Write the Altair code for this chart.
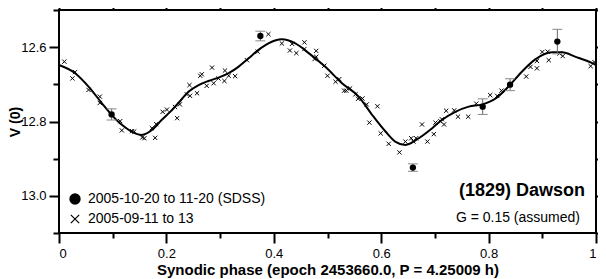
import altair as alt
import pandas as pd

# ---- data ----
curve_phase = [0.000, 0.030, 0.055, 0.080, 0.098, 0.117, 0.135, 0.154, 0.173, 0.191,
               0.207, 0.222, 0.241, 0.260, 0.278, 0.297, 0.316, 0.334, 0.353, 0.371,
               0.390, 0.415, 0.440, 0.465, 0.496, 0.527, 0.558, 0.583, 0.608, 0.626,
               0.645, 0.670, 0.695, 0.713, 0.738, 0.763, 0.788, 0.813, 0.837, 0.862,
               0.887, 0.918, 0.937, 0.962, 0.993, 1.000]
curve_mag = [12.648, 12.670, 12.706, 12.751, 12.782, 12.809, 12.827, 12.836, 12.823, 12.796,
             12.774, 12.751, 12.720, 12.702, 12.691, 12.682, 12.670, 12.653, 12.630, 12.608,
             12.590, 12.579, 12.590, 12.616, 12.653, 12.697, 12.733, 12.782, 12.827, 12.854,
             12.863, 12.845, 12.818, 12.796, 12.774, 12.760, 12.754, 12.738, 12.706, 12.666,
             12.633, 12.614, 12.614, 12.626, 12.643, 12.648]

cross_phase = [0.010, 0.030, 0.025, 0.055, 0.076, 0.076, 0.114, 0.117, 0.136, 0.140,
               0.155, 0.159, 0.179, 0.173, 0.181, 0.193, 0.201, 0.216, 0.225, 0.220,
               0.238, 0.244, 0.257, 0.243, 0.263, 0.266, 0.285, 0.275, 0.288, 0.297,
               0.308, 0.309, 0.316, 0.328, 0.350, 0.370, 0.390, 0.415, 0.434, 0.430,
               0.442, 0.457, 0.457, 0.479, 0.479, 0.476, 0.494, 0.500, 0.515, 0.522,
               0.531, 0.535, 0.542, 0.552, 0.557, 0.565, 0.573, 0.593, 0.578, 0.599,
               0.614, 0.634, 0.645, 0.656, 0.665, 0.660, 0.676, 0.686, 0.698, 0.701,
               0.710, 0.717, 0.713, 0.721, 0.736, 0.743, 0.762, 0.777, 0.803, 0.816,
               0.824, 0.870, 0.878, 0.890, 0.890, 0.900, 0.910, 0.912, 0.932, 0.938,
               0.990, 0.997]
cross_mag = [12.639, 12.667, 12.684, 12.715, 12.733, 12.750, 12.799, 12.824, 12.826, 12.827,
             12.843, 12.845, 12.844, 12.818, 12.807, 12.774, 12.768, 12.761, 12.754, 12.791,
             12.727, 12.731, 12.724, 12.702, 12.677, 12.673, 12.655, 12.704, 12.697, 12.684,
             12.691, 12.663, 12.677, 12.678, 12.635, 12.612, 12.565, 12.590, 12.591, 12.609,
             12.616, 12.587, 12.605, 12.610, 12.626, 12.632, 12.650, 12.677, 12.693, 12.686,
             12.717, 12.717, 12.711, 12.727, 12.739, 12.738, 12.754, 12.759, 12.803, 12.832,
             12.860, 12.883, 12.854, 12.845, 12.845, 12.854, 12.808, 12.854, 12.834, 12.803,
             12.799, 12.808, 12.794, 12.771, 12.770, 12.787, 12.787, 12.752, 12.729, 12.731,
             12.717, 12.679, 12.653, 12.657, 12.637, 12.613, 12.612, 12.635, 12.617, 12.624,
             12.651, 12.640]

sdss_phase = [0.098, 0.375, 0.659, 0.789, 0.840, 0.928]
sdss_mag = [12.781, 12.570, 12.924, 12.760, 12.701, 12.585]
sdss_err = [0.015, 0.013, 0.010, 0.021, 0.016, 0.033]

legend_labels = ["2005-10-20 to 11-20 (SDSS)", "2005-09-11 to 13"]
title_text = "(1829) Dawson"
note_text = "G = 0.15 (assumed)"
x_title = "Synodic phase (epoch 2453660.0, P = 4.25009 h)"
y_title = "V (0)"

x_ticks = [round(i * 0.1, 1) for i in range(11)]
y_ticks = [round(12.5 + i * 0.1, 1) for i in range(7)]

FONT = "Liberation Sans"
CROSS = "M-1,-1L1,1M-1,1L1,-1"

curve_df = pd.DataFrame({"phase": curve_phase, "mag": curve_mag})
cross_df = pd.DataFrame({"phase": cross_phase, "mag": cross_mag})
sdss_df = pd.DataFrame({"phase": sdss_phase, "mag": sdss_mag, "err": sdss_err})
sdss_df["lo"] = sdss_df["mag"] - sdss_df["err"]
sdss_df["hi"] = sdss_df["mag"] + sdss_df["err"]

xscale = alt.Scale(domain=[0, 1], nice=False, zero=False)
yscale = alt.Scale(domain=[12.5, 13.1], nice=False, zero=False, reverse=True)

major = "abs(datum.value*5 - round(datum.value*5)) < 0.001"

common_axis = dict(domain=False, grid=False, tickColor="black", tickWidth=2,
                   labelFont=FONT, labelFontSize=13, labelColor="black",
                   titleFont=FONT, titleFontSize=15, titleFontWeight="bold",
                   titleColor="black")

x_axis_main = alt.Axis(
    orient="bottom", values=x_ticks, title=x_title,
    tickSize={"condition": {"test": major, "value": 10}, "value": 5},
    labelExpr="abs(datum.value*5 - round(datum.value*5)) < 0.001 ? (datum.value == 0 ? '0' : (datum.value == 1 ? '1' : format(datum.value, '.1f'))) : ''",
    labelPadding=4, titlePadding=2, **common_axis)
y_common = dict(common_axis)
y_common["titleFontSize"] = 14
y_axis_main = alt.Axis(
    orient="left", values=y_ticks, title=y_title,
    tickSize={"condition": {"test": major, "value": 10}, "value": 6},
    labelExpr="abs(datum.value*5 - round(datum.value*5)) < 0.001 ? format(datum.value, '.1f') : ''",
    labelPadding=3, titleX=-40, titleAngle=270, titleBaseline="alphabetic",
    titleAlign="center", **y_common)
x_axis_top = alt.Axis(
    orient="top", values=x_ticks, title=None, labels=False,
    tickSize={"condition": {"test": major, "value": 10}, "value": 5},
    **common_axis)
y_axis_right = alt.Axis(
    orient="right", values=y_ticks, title=None, labels=False,
    tickSize={"condition": {"test": major, "value": 10}, "value": 6},
    **common_axis)

curve = alt.Chart(curve_df).mark_line(color="black", strokeWidth=2, interpolate="monotone").encode(
    x=alt.X("phase:Q", scale=xscale, axis=x_axis_top),
    y=alt.Y("mag:Q", scale=yscale, axis=y_axis_right),
)

crosses = alt.Chart(cross_df).mark_point(shape=CROSS, size=18, filled=False,
                                         color="black", strokeWidth=1, opacity=1).encode(
    x=alt.X("phase:Q", scale=xscale, axis=x_axis_main),
    y=alt.Y("mag:Q", scale=yscale, axis=y_axis_main),
)

err_rule = alt.Chart(sdss_df).mark_rule(color="#666666", strokeWidth=1).encode(
    x=alt.X("phase:Q", scale=xscale, axis=None),
    y=alt.Y("lo:Q", scale=yscale, axis=None),
    y2="hi:Q",
)
cap_lo = alt.Chart(sdss_df).mark_tick(orient="horizontal", size=10, thickness=1,
                                      color="#888888", opacity=1).encode(
    x=alt.X("phase:Q", scale=xscale, axis=None),
    y=alt.Y("lo:Q", scale=yscale, axis=None),
)
cap_hi = alt.Chart(sdss_df).mark_tick(orient="horizontal", size=10, thickness=1,
                                      color="#888888", opacity=1).encode(
    x=alt.X("phase:Q", scale=xscale, axis=None),
    y=alt.Y("hi:Q", scale=yscale, axis=None),
)
dots = alt.Chart(sdss_df).mark_circle(size=40, color="black", opacity=1).encode(
    x=alt.X("phase:Q", scale=xscale, axis=None),
    y=alt.Y("mag:Q", scale=yscale, axis=None),
)

leg1_df = pd.DataFrame({"label": [legend_labels[0]]})
leg2_df = pd.DataFrame({"label": [legend_labels[1]]})
leg_dot = alt.Chart(leg1_df).mark_circle(size=130, color="black", opacity=1).encode(
    x=alt.value(16), y=alt.value(189))
leg_dot_txt = alt.Chart(leg1_df).mark_text(align="left", baseline="middle", font=FONT,
                                           fontSize=14, color="black").encode(
    x=alt.value(29), y=alt.value(189), text="label:N")
leg_x = alt.Chart(leg2_df).mark_point(shape=CROSS, size=70, filled=False, color="black",
                                      strokeWidth=1.2, opacity=1).encode(
    x=alt.value(16), y=alt.value(209))
leg_x_txt = alt.Chart(leg2_df).mark_text(align="left", baseline="middle", font=FONT,
                                         fontSize=14, color="black").encode(
    x=alt.value(29), y=alt.value(209), text="label:N")

title_df = pd.DataFrame({"t": [title_text]})
note_df = pd.DataFrame({"t": [note_text]})
title_mark = alt.Chart(title_df).mark_text(align="right", baseline="middle", font=FONT,
                                           fontSize=18, fontWeight="bold", color="black").encode(
    x=alt.value(526), y=alt.value(181), text="t:N")
note_mark = alt.Chart(note_df).mark_text(align="right", baseline="middle", font=FONT,
                                         fontSize=14, color="black").encode(
    x=alt.value(521), y=alt.value(208), text="t:N")

chart = alt.layer(
    curve, crosses, err_rule, cap_lo, cap_hi, dots,
    leg_dot, leg_dot_txt, leg_x, leg_x_txt, title_mark, note_mark,
).resolve_axis(x="independent", y="independent").properties(
    width=537, height=223,
    autosize=alt.AutoSizeParams(type="none"),
    padding={"left": 51, "top": 2, "right": 2, "bottom": 46},
    background="white",
).configure_view(stroke="black", strokeWidth=2)

chart.save("out.html", embed_options={"renderer": "svg", "actions": False})
